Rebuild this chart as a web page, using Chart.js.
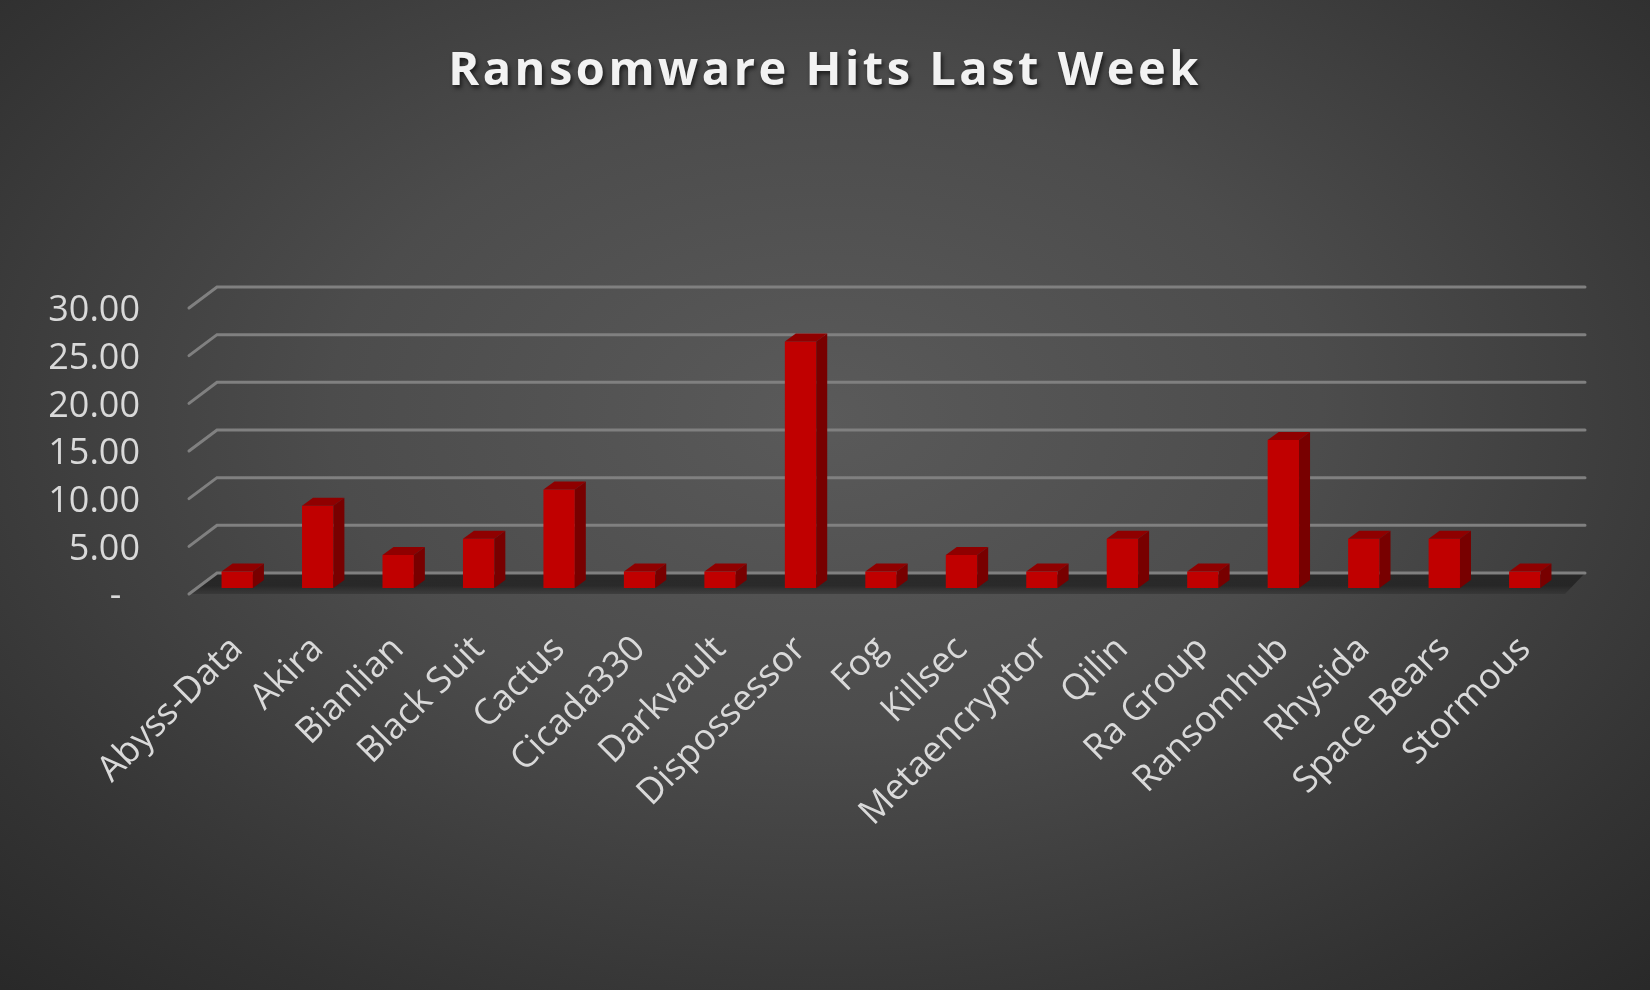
<!DOCTYPE html>
<html>
<head>
<meta charset="utf-8">
<script src="https://cdn.jsdelivr.net/npm/chart.js@4.4.1/dist/chart.umd.min.js"></script>
<style>
  html, body { margin: 0; padding: 0; }
  body {
    width: 1650px; height: 990px; overflow: hidden;
    background: radial-gradient(ellipse 75% 80% at 50% 42%, #5a5a5a 0%, #4c4c4c 40%, #333333 80%, #282828 100%);
  }
  canvas { display: block; }
</style>
</head>
<body>
<canvas id="hitsChart" width="1650" height="990"></canvas>
<script>
// data (share of the week's hits, in %)
const groups = ['Abyss-Data', 'Akira', 'Bianlian', 'Black Suit', 'Cactus', 'Cicada330', 'Darkvault',
    'Dispossessor', 'Fog', 'Killsec', 'Metaencryptor', 'Qilin', 'Ra Group', 'Ransomhub', 'Rhysida',
    'Space Bears', 'Stormous'];
const hits = [1.72, 8.62, 3.45, 5.17, 10.34, 1.72, 1.72, 25.86, 1.72, 3.45, 1.72, 5.17, 1.72, 15.52, 5.17, 5.17, 1.72];
const yTicks = [0, 5, 10, 15, 20, 25, 30];

// depth of the fake 3d look
const BAR_DX = 11, BAR_DY = 8;      // bar side / cap
const WALL_DX = 28, WALL_DY = 21;   // back wall offset from the label plane
const FRONT_SHIFT = 15;             // bar front base sits this far below the back zero line
const RIGHT_PAD = 85;

const threeD = {
    id: 'threeD',
    beforeDraw(chart) {
        // letter spacing + shadow for the title, centred on the page
        const t = chart.titleBlock;
        if (t && !t._wrapped) {
            const orig = t.draw.bind(t);
            t.draw = function() {
                const ctx = chart.ctx;
                ctx.save();
                ctx.translate(RIGHT_PAD / 2, 0);
                ctx.letterSpacing = '3.5px';
                ctx.shadowColor = 'rgba(0,0,0,0.6)';
                ctx.shadowOffsetX = 2;
                ctx.shadowOffsetY = 3;
                ctx.shadowBlur = 4;
                orig();
                ctx.restore();
            };
            t._wrapped = true;
        }
    },
    beforeDatasetsDraw(chart) {
        const ctx = chart.ctx;
        const area = chart.chartArea;
        const y = chart.scales.y;
        const backL = area.left + 20, backR = area.right + 20;
        const zeroBack = y.getPixelForValue(0) - FRONT_SHIFT;

        // floor
        ctx.save();
        ctx.beginPath();
        ctx.moveTo(backL, zeroBack);
        ctx.lineTo(backR, zeroBack);
        ctx.lineTo(backR - 20, zeroBack + WALL_DY);
        ctx.lineTo(backL - WALL_DX, zeroBack + WALL_DY);
        ctx.closePath();
        const g = ctx.createLinearGradient(0, zeroBack, 0, zeroBack + WALL_DY);
        g.addColorStop(0, 'rgba(38,38,38,0.9)');
        g.addColorStop(0.6, 'rgba(32,32,32,0.8)');
        g.addColorStop(1, 'rgba(50,50,50,0.6)');
        ctx.fillStyle = g;
        ctx.fill();

        // gridlines on the back wall, with the short diagonal to the front
        ctx.strokeStyle = '#808080';
        ctx.lineWidth = 3;
        ctx.lineCap = 'round';
        yTicks.forEach(function(v) {
            const yb = y.getPixelForValue(v) - FRONT_SHIFT;
            ctx.beginPath();
            ctx.moveTo(backL - WALL_DX, yb + WALL_DY);
            ctx.lineTo(backL, yb);
            ctx.lineTo(backR, yb);
            ctx.stroke();
        });
        ctx.restore();
    },
    afterDatasetsDraw(chart) {
        const ctx = chart.ctx;
        ctx.save();
        chart.getDatasetMeta(0).data.forEach(function(bar) {
            const p = bar.getProps(['x', 'y', 'width', 'base'], true);
            const l = p.x - p.width / 2, r = p.x + p.width / 2;
            // cap
            ctx.fillStyle = '#8f0000';
            ctx.beginPath();
            ctx.moveTo(l, p.y);
            ctx.lineTo(r, p.y);
            ctx.lineTo(r + BAR_DX, p.y - BAR_DY);
            ctx.lineTo(l + BAR_DX, p.y - BAR_DY);
            ctx.closePath();
            ctx.fill();
            // side
            ctx.fillStyle = '#780000';
            ctx.beginPath();
            ctx.moveTo(r, p.y);
            ctx.lineTo(r + BAR_DX, p.y - BAR_DY);
            ctx.lineTo(r + BAR_DX, p.base - BAR_DY);
            ctx.lineTo(r, p.base);
            ctx.closePath();
            ctx.fill();
        });
        ctx.restore();
    }
};

const ctx = document.getElementById('hitsChart').getContext('2d');
const hitsChart = new Chart(ctx, {
    type: 'bar',
    data: {
        labels: groups,
        datasets: [{
            label: 'Hits',
            data: hits,
            backgroundColor: '#c00000',
            borderWidth: 0,
            barPercentage: 0.39,
            categoryPercentage: 1
        }]
    },
    options: {
        responsive: false,
        maintainAspectRatio: false,
        animation: false,
        devicePixelRatio: 1,
        layout: { padding: { left: 0, right: RIGHT_PAD, top: 0, bottom: 0 } },
        plugins: {
            legend: { display: false },
            tooltip: { enabled: false },
            title: {
                display: true,
                text: 'Ransomware Hits Last Week',
                color: '#f2f2f2',
                font: { family: 'Open Sans', size: 47, weight: 'bold' },
                padding: { top: 43, bottom: 202.6 }
            }
        },
        scales: {
            x: {
                grid: { display: false, drawTicks: false },
                border: { display: false },
                ticks: {
                    color: '#d9d9d9',
                    font: { family: 'Open Sans', size: 36 },
                    minRotation: 45,
                    maxRotation: 45,
                    padding: 40,
                    autoSkip: false
                },
                afterFit(scale) { scale.height = 402; }
            },
            y: {
                min: 0,
                max: 30,
                grid: { display: false, drawTicks: false },
                border: { display: false },
                ticks: {
                    stepSize: 5,
                    autoSkip: false,
                    color: '#d9d9d9',
                    font: { family: 'Open Sans', size: 36 },
                    padding: 57,
                    labelOffset: 9,
                    callback: function(v) { return v === 0 ? '-  ' : v.toFixed(2); }
                },
                afterFit(scale) { scale.width = 197; }
            }
        }
    },
    plugins: [threeD]
});
</script>
</body>
</html>
